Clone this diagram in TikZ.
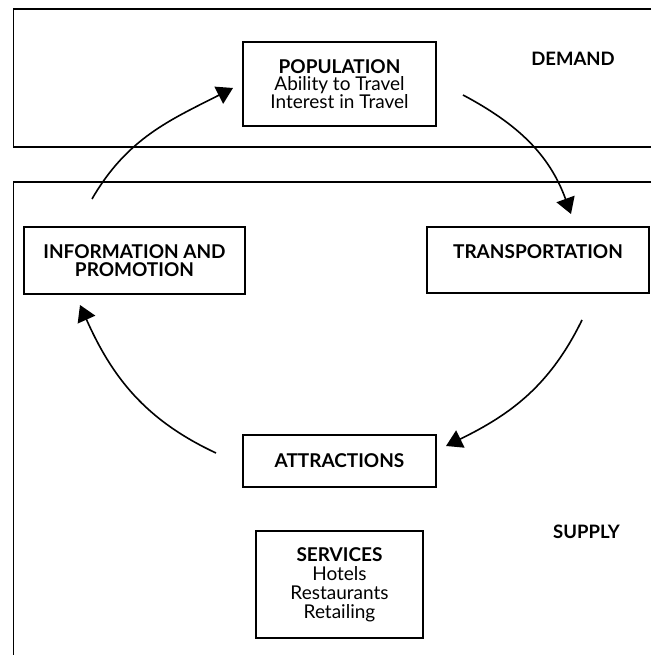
\documentclass[tikz,border=0pt]{standalone}
\usepackage{fontspec}
\setmainfont{Lato}
\usetikzlibrary{arrows.meta}
\begin{document}
\begin{tikzpicture}[x=1pt,y=1pt,
  frame/.style={line width=1.6pt},
  box/.style={draw, line width=1.6pt, inner sep=0pt, align=center,
    font=\fontsize{19}{17.5}\selectfont},
  tag/.style={font=\fontsize{18.5}{17.5}\selectfont\bfseries, inner sep=0pt},
  flow/.style={line width=1.6pt, -{Triangle[length=16pt,width=19pt]}}]
\useasboundingbox (0,0) rectangle (651,655);

% demand and supply regions
\draw[frame] (651,646) -- (13.5,646) -- (13.5,508) -- (651,508);
\draw[frame] (651,473) -- (13.5,473) -- (13.5,0);

\node[tag] (demand) at (573,596) {DEMAND};
\node[tag] (supply) at (586.5,123) {SUPPLY};

% components of the system
\node[box, minimum width=193pt, minimum height=84pt] (pop) at (339.5,571)
  {\textbf{POPULATION}\\Ability to Travel\\Interest in Travel};
\node[box, minimum width=222pt, minimum height=66pt] (trans) at (538,395)
  {\textbf{TRANSPORTATION}\\\mbox{}};
\node[box, minimum width=221pt, minimum height=67pt] (info) at (134.5,394.5)
  {\textbf{INFORMATION AND}\\\textbf{PROMOTION}};
\node[box, minimum width=193pt, minimum height=52pt] (attr) at (339.5,194)
  {\textbf{ATTRACTIONS}};
\node[box, minimum width=167pt, minimum height=107pt,
  font=\fontsize{19}{19}\selectfont] (serv) at (339.5,70.5)
  {\textbf{SERVICES}\\Hotels\\Restaurants\\Retailing};

% ends of the cycle arrows
\coordinate (a1s) at (92,456);
\coordinate (a1e) at (233,567);
\coordinate (a2s) at (463,560);
\coordinate (a2e) at (571,441);
\coordinate (a3s) at (582,335);
\coordinate (a3e) at (446,209);
\coordinate (a4s) at (216,202);
\coordinate (a4e) at (80,350);

\draw[flow] (a1s) to[out=60,in=207] (a1e);
\draw[flow] (a2s) to[out=-28,in=110] (a2e);
\draw[flow] (a3s) to[out=-116,in=26] (a3e);
\draw[flow] (a4s) to[out=155,in=294] (a4e);
\end{tikzpicture}
\end{document}
